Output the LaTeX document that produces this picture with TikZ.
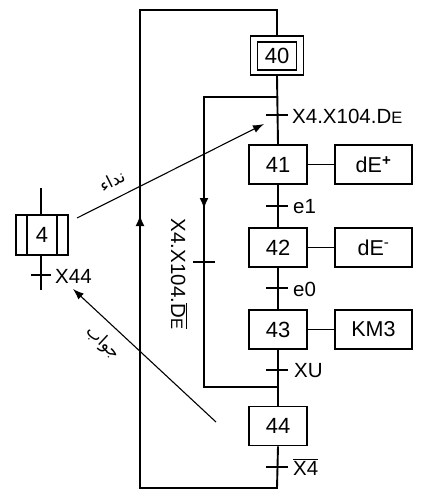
\documentclass[tikz,border=0pt]{standalone}
\usepackage{fontspec}
\setmainfont{Liberation Sans}
\newfontfamily\arabicfont[Script=Arabic]{DejaVu Sans}
\TeXXeTstate=1
\usetikzlibrary{arrows.meta}
\begin{document}
\begin{tikzpicture}[x=1pt,y=-1pt,
  font=\fontsize{20.5}{22}\selectfont,
  ln/.style={line width=1.9pt},
  stepbox/.style={draw,line width=1.9pt,minimum width=58pt,minimum height=39pt,inner sep=0pt,font=\fontsize{22}{24}\selectfont},
  actbox/.style={draw,line width=1.9pt,minimum width=77pt,minimum height=39pt,inner sep=0pt,font=\fontsize{21.5}{23}\selectfont},
  tick/.style={line width=1.9pt},
  lbl/.style={anchor=west,inner sep=0pt},
  arr/.style={line width=1.1pt,-{Latex[length=11pt,width=8pt]}},
  tip/.style={line width=1.9pt,-{Latex[length=11pt,width=9pt]}},
  arab/.style={inner sep=0pt,font=\arabicfont\fontsize{17}{17}\selectfont}
]
\useasboundingbox (0,0) rectangle (428,492);
% main steps
\node[stepbox,minimum width=53pt] (s40o) at (277,55.5) {};
\node[draw,line width=1.9pt,minimum width=39pt,minimum height=28pt,inner sep=0pt,font=\fontsize{22}{24}\selectfont] (s40) at (277,56) {40};
\node[stepbox] (s41) at (278,164.5) {41};
\node[stepbox] (s42) at (278,247.5) {42};
\node[stepbox] (s43) at (278,329.5) {43};
\node[stepbox] (s44) at (278,426) {44};
% actions
\node[actbox] (a41) at (373.5,164.5) {dE\textsuperscript{\textbf{+}}};
\node[actbox] (a42) at (373.5,247.5) {dE\textsuperscript{-}};
\node[actbox] (a43) at (373.5,329.5) {KM3};
\draw[ln] (s41) -- (a41);
\draw[ln] (s42) -- (a42);
\draw[ln] (s43) -- (a43);
% coordinates
\coordinate (t40) at (277,115);
\coordinate (t41) at (277,206);
\coordinate (t42) at (277,288);
\coordinate (t43) at (277,370);
\coordinate (t44) at (277,467);
\coordinate (top) at (277,10);
\coordinate (topL) at (140,10);
\coordinate (botL) at (140,488);
\coordinate (bot) at (277,488);
\coordinate (jA) at (277,97);
\coordinate (jAL) at (204,97);
\coordinate (jB) at (277,387);
\coordinate (jBL) at (204,387);
\coordinate (tskip) at (204,262);
% main vertical line
\draw[ln] (s40o.south) -- (s41.north);
\draw[ln] (s41.south) -- (s42.north);
\draw[ln] (s42.south) -- (s43.north);
\draw[ln] (s43.south) -- (s44.north);
\draw[ln] (s44.south) -- (bot) -- (botL) -- (topL) -- (top) -- (s40o.north);
% inner skip loop
\draw[ln] (jA) -- (jAL) -- (jBL) -- (jB);
\draw[tip] (204,180) -- (204,209);
\draw[tip] (140,250) -- (140,215);
% transitions
\foreach \t in {t40,t41,t42,t43,t44}{\draw[tick] ([xshift=-11pt]\t) -- ([xshift=11pt]\t);}
\draw[tick] ([xshift=-11pt]tskip) -- ([xshift=11pt]tskip);
\node[lbl] (l40) at (292,116) {X4.X104.D{\fontsize{16.5}{16}\selectfont E}};
\node[lbl] (l41) at (293,207) {e1};
\node[lbl] (l42) at (293,289) {e0};
\node[lbl] (l43) at (294,371) {XU};
\node[lbl] (l44) at (293,467) {$\overline{\mbox{X4}}$};
\node[rotate=-90,inner sep=0pt] (lskip) at (179,274) {X4.X104.$\overline{\mbox{D{\fontsize{16.5}{16}\selectfont E}}}$};
% left step 4
\node[draw,line width=1.9pt,minimum width=52pt,minimum height=40pt,inner sep=0pt,font=\fontsize{22}{24}\selectfont] (s4) at (42,235) {4};
\draw[ln] (27,215) -- (27,255);
\draw[ln] (57,215) -- (57,255);
\coordinate (s4top) at (41,188);
\coordinate (s4bot) at (41,290);
\coordinate (t4) at (41,275);
\draw[ln] (s4top) -- (s4.north -| s4top);
\draw[ln] (s4.south -| s4bot) -- (s4bot);
\draw[tick] (31,275) -- (51,275);
\node[lbl] (l4) at (55,276) {X44};
% arrows
\coordinate (callA) at (77,218);
\coordinate (callB) at (264,124);
\draw[arr] (callA) -- (callB);
\node[arab,rotate=26.7] (call) at (112,181) {\beginR نداء\endR};
\coordinate (ansA) at (216,422);
\coordinate (ansB) at (73,289);
\draw[arr] (ansA) -- (ansB);
\node[arab,rotate=-43] (ans) at (103,343) {\beginR جواب\endR};
\end{tikzpicture}
\end{document}
